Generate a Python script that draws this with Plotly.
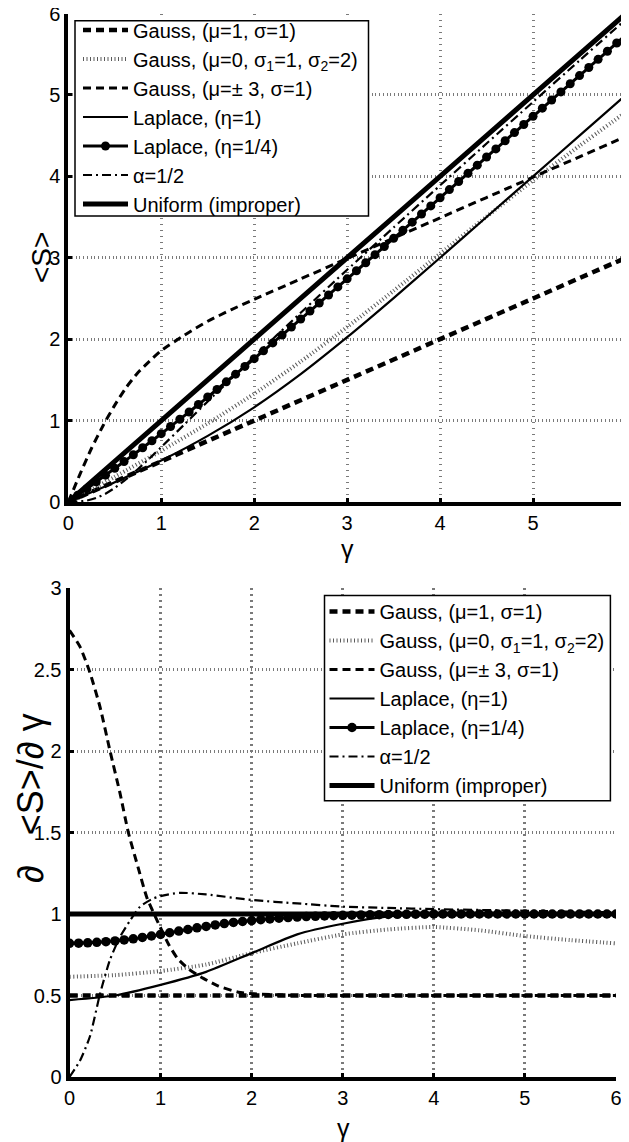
import plotly.graph_objects as go

# ---------------- data: top panel  <S>(gamma) ----------------
g_line = [0, 1, 2, 3, 4, 5, 6]
s_gauss_mu1 = [0, 0.5, 1.0, 1.5, 2.0, 2.5, 3.0]
s_uniform = [0, 1, 2, 3, 4, 5, 6]

g_pm3 = [0, 0.125, 0.25, 0.375, 0.5, 0.625, 0.75, 0.875, 1.0, 1.25, 1.5, 1.75, 2.0, 2.5, 3, 4, 5, 6]
s_gauss_pm3 = [0, 0.34, 0.66, 0.94, 1.19, 1.41, 1.59, 1.73, 1.86, 2.05, 2.22, 2.36, 2.49, 2.74, 2.99, 3.49, 3.99, 4.49]

g_half = [0, 0.5, 1, 1.5, 2, 2.5, 3, 3.5, 4, 4.5, 5, 5.5, 6]
s_gauss_s12 = [0, 0.31, 0.63, 0.965, 1.33, 1.725, 2.15, 2.595, 3.05, 3.505, 3.95, 4.375, 4.79]
s_laplace1 = [0, 0.243, 0.509, 0.812, 1.163, 1.57, 2.024, 2.505, 3.0, 3.5, 4.0, 4.5, 5.0]

g_alpha = [0, 0.1, 0.2, 0.3, 0.4, 0.5, 0.6, 0.7, 0.8, 0.9, 1.0, 1.25, 1.5, 2, 2.5, 3, 3.5, 4, 4.5, 5, 5.5, 6]
s_alpha = [0, 0.004, 0.018, 0.049, 0.102, 0.174, 0.26, 0.355, 0.457, 0.564, 0.674, 0.954, 1.235,
           1.786, 2.324, 2.852, 3.372, 3.889, 4.403, 4.914, 5.423, 5.929]

g_mark = [0.0, 0.1, 0.2, 0.3, 0.4, 0.5, 0.6, 0.7, 0.8, 0.9, 1.0, 1.1, 1.2, 1.3, 1.4, 1.5, 1.6, 1.7, 1.8, 1.9,
          2.0, 2.1, 2.2, 2.3, 2.4, 2.5, 2.6, 2.7, 2.8, 2.9, 3.0, 3.1, 3.2, 3.3, 3.4, 3.5, 3.6, 3.7, 3.8, 3.9,
          4.0, 4.1, 4.2, 4.3, 4.4, 4.5, 4.6, 4.7, 4.8, 4.9, 5.0, 5.1, 5.2, 5.3, 5.4, 5.5, 5.6, 5.7, 5.8, 5.9, 6.0]
s_laplace14 = [0, 0.082, 0.164, 0.247, 0.330, 0.413, 0.497, 0.581, 0.666, 0.752, 0.839, 0.927, 1.016,
               1.106, 1.197, 1.289, 1.382, 1.476, 1.570, 1.665, 1.761, 1.857, 1.954, 2.051, 2.149, 2.247,
               2.345, 2.444, 2.543, 2.642, 2.741, 2.840, 2.939, 3.038, 3.138, 3.238, 3.337, 3.437, 3.537,
               3.637, 3.737, 3.837, 3.937, 4.037, 4.137, 4.237, 4.337, 4.437, 4.537, 4.637, 4.737, 4.837,
               4.937, 5.037, 5.137, 5.237, 5.337, 5.437, 5.537, 5.637, 5.737]

# ---------------- data: bottom panel  d<S>/d gamma ----------------
d_gauss_mu1 = [0.5, 0.5, 0.5, 0.5, 0.5, 0.5, 0.5]
d_uniform = [1, 1, 1, 1, 1, 1, 1]

g_dpm3 = [0, 0.115, 0.225, 0.335, 0.445, 0.555, 0.646, 0.756, 0.85, 0.976, 1.086, 1.185, 1.306, 1.47,
          1.635, 1.855, 2.03, 2.5, 3, 4, 5, 6]
d_gauss_pm3 = [2.74, 2.64, 2.48, 2.27, 2.0, 1.74, 1.5, 1.28, 1.10, 0.943, 0.816, 0.728, 0.663, 0.605,
               0.558, 0.52, 0.51, 0.5, 0.5, 0.5, 0.5, 0.5]

d_gauss_s12 = [0.615, 0.625, 0.65, 0.69, 0.76, 0.82, 0.875, 0.905, 0.92, 0.90, 0.865, 0.84, 0.82]
d_laplace1 = [0.472, 0.50, 0.565, 0.645, 0.76, 0.875, 0.94, 0.985, 1.0, 1.0, 1.0, 1.0, 1.0]

g_dalpha = [0, 0.115, 0.225, 0.335, 0.445, 0.555, 0.665, 0.775, 0.9, 1.0, 1.21, 1.5, 2, 2.5, 3, 3.5, 4, 5, 6]
d_alpha = [0, 0.10, 0.25, 0.51, 0.72, 0.86, 0.96, 1.045, 1.09, 1.11, 1.13, 1.12, 1.086, 1.065, 1.045,
           1.037, 1.03, 1.02, 1.01]

d_laplace14 = [0.820, 0.821, 0.823, 0.826, 0.830, 0.835, 0.841, 0.848, 0.856, 0.865, 0.875, 0.885, 0.895,
               0.905, 0.915, 0.924, 0.933, 0.941, 0.948, 0.954, 0.960, 0.965, 0.970, 0.974, 0.978, 0.981,
               0.984, 0.986, 0.988, 0.990, 0.992, 0.993, 0.994, 0.995, 0.996, 0.997, 0.998, 0.998, 0.999,
               0.999, 1.0, 1.0, 1.0, 1.0, 1.0, 1.0, 1.0, 1.0, 1.0, 1.0, 1.0, 1.0, 1.0, 1.0, 1.0, 1.0, 1.0,
               1.0, 1.0, 1.0, 1.0]

x_ticks = [0, 1, 2, 3, 4, 5, 6]
y_ticks_top = [0, 1, 2, 3, 4, 5, 6]
y_ticks_bot = [0, 0.5, 1, 1.5, 2, 2.5, 3]
y_ticklabels_bot = ["0", "0.5", "1", "1.5", "2", "2.5", "3"]

names = [
    "Gauss, (μ=1, σ=1)",
    "Gauss, (μ=0, σ<sub>1</sub>=1, σ<sub>2</sub>=2)",
    "Gauss, (μ=± 3, σ=1)",
    "Laplace, (η=1)",
    "Laplace, (η=1/4)",
    "α=1/2",
    "Uniform (improper)",
]

FONT = "Liberation Sans, Arial, Helvetica, sans-serif"

styles = [
    dict(color="black", width=4.5, dash="8px,5px"),
    dict(color="#5a5a5a", width=4, dash="1px,2.5px"),
    dict(color="black", width=3, dash="8px,5px"),
    dict(color="black", width=2.2),
    dict(color="black", width=3),
    dict(color="black", width=2.2, dash="9px,4px,2px,4px"),
    dict(color="black", width=5),
]

# the page body has an 8px margin: figure pixel = window pixel - 8
W, H = 629, 1134


def px(xp):
    return xp / W


def py(yp):
    return 1 - yp / H


fig = go.Figure()

top_series = [
    (g_line, s_gauss_mu1),
    (g_half, s_gauss_s12),
    (g_pm3, s_gauss_pm3),
    (g_half, s_laplace1),
    (g_mark, s_laplace14),
    (g_alpha, s_alpha),
    (g_line, s_uniform),
]
bot_series = [
    (g_line, d_gauss_mu1),
    (g_half, d_gauss_s12),
    (g_dpm3, d_gauss_pm3),
    (g_half, d_laplace1),
    (g_mark, d_laplace14),
    (g_dalpha, d_alpha),
    (g_line, d_uniform),
]

for i, ((gx, gy), nm, st) in enumerate(zip(top_series, names, styles)):
    is_mark = i == 4
    fig.add_trace(go.Scatter(
        x=gx, y=gy, name=nm, xaxis="x", yaxis="y", legend="legend",
        mode="lines+markers" if is_mark else "lines",
        line=dict(shape="spline", smoothing=0.6, **st),
        marker=dict(symbol="circle", size=9, color="black") if is_mark else None,
        showlegend=True,
    ))

for i, ((gx, gy), nm, st) in enumerate(zip(bot_series, names, styles)):
    is_mark = i == 4
    fig.add_trace(go.Scatter(
        x=gx, y=gy, name=nm, xaxis="x2", yaxis="y2", legend="legend2",
        mode="lines+markers" if is_mark else "lines",
        line=dict(shape="spline", smoothing=0.6, **st),
        marker=dict(symbol="circle", size=9.5, color="black") if is_mark else None,
        showlegend=True,
    ))

axis_common = dict(
    showline=True, linecolor="black", linewidth=4, mirror=False,
    ticks="inside", ticklen=4, tickwidth=3, tickcolor="black",
    showgrid=True, gridcolor="#7a7a7a", gridwidth=3,
    zeroline=False, automargin=False, ticklabeloverflow="allow",
    tickfont=dict(family=FONT, size=20, color="black"),
)

legend_common = dict(
    xanchor="left", yanchor="top",
    bgcolor="rgba(0,0,0,0)", borderwidth=0,
    font=dict(family=FONT, size=20, color="black"),
    itemwidth=45, tracegroupgap=0,
)

fig.update_layout(
    width=W, height=H,
    margin=dict(l=0, r=0, t=0, b=0),
    paper_bgcolor="white", plot_bgcolor="white",
    font=dict(family=FONT, size=20, color="black"),
    xaxis=dict(domain=[px(60.3), px(618)], anchor="y", range=[0, 6], tickvals=x_ticks,
               griddash="1.5px,4.5px", **axis_common),
    yaxis=dict(domain=[py(494), py(5.5)], anchor="x", range=[0, 6], tickvals=y_ticks_top,
               griddash="1px,2.7px", **axis_common),
    xaxis2=dict(domain=[px(61.5), px(608)], anchor="y2", range=[0, 6], tickvals=x_ticks,
                griddash="1.5px,4.5px", **axis_common),
    yaxis2=dict(domain=[py(1069), py(580)], anchor="x2", range=[0, 3], tickvals=y_ticks_bot,
                ticktext=y_ticklabels_bot, griddash="1px,2.7px", **axis_common),
    legend=dict(x=px(70), y=py(2.5), **legend_common),
    legend2=dict(x=px(316.5), y=py(584), **legend_common),
    showlegend=True,
)

# legend frames (white boxes with black border, above the curves)
for (x0, y0, x1, y1) in [(67, 12.7, 360.5, 208), (316.5, 587.4, 602.4, 792.7)]:
    fig.add_shape(type="rect", xref="paper", yref="paper",
                  x0=px(x0), x1=px(x1), y0=py(y1), y1=py(y0),
                  fillcolor="white", line=dict(color="black", width=1.5), layer="above")

# axis titles (placed as paper-anchored text)
fig.add_annotation(text="γ", xref="paper", yref="paper", x=px(339), y=py(541),
                   showarrow=False, xanchor="center", yanchor="middle", font=dict(size=25))
fig.add_annotation(text="γ", xref="paper", yref="paper", x=px(335), y=py(1120),
                   showarrow=False, xanchor="center", yanchor="middle", font=dict(size=25))
fig.add_annotation(text="&lt;S&gt;", xref="paper", yref="paper", x=px(34), y=py(250),
                   showarrow=False, xanchor="center", yanchor="middle", textangle=-90,
                   font=dict(size=28))
fig.add_annotation(text="∂&nbsp;&nbsp; &lt;S&gt;/∂ γ", xref="paper", yref="paper", x=px(22), y=py(790),
                   showarrow=False, xanchor="center", yanchor="middle", textangle=-90,
                   font=dict(size=36))

fig.write_html("out.html")
